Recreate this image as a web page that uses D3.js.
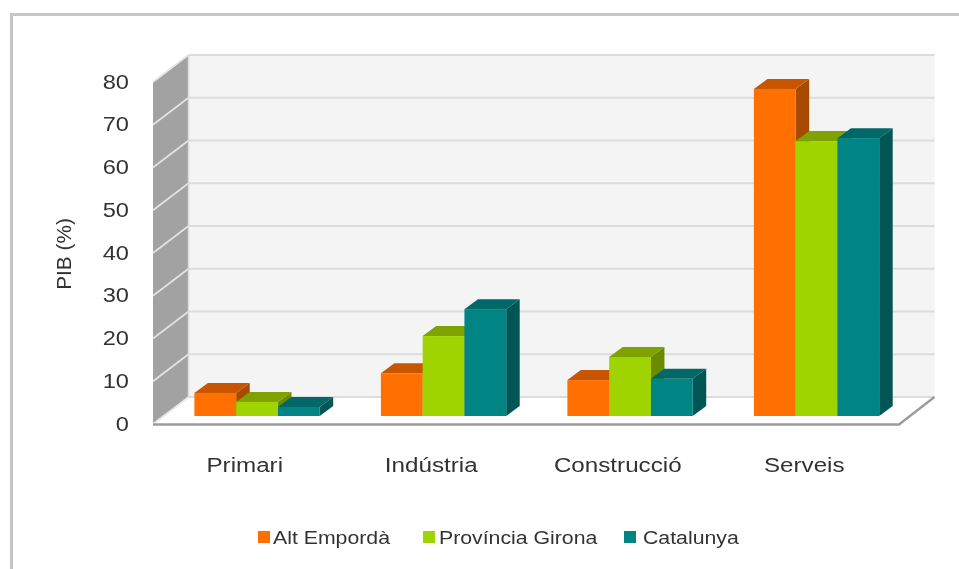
<!DOCTYPE html>
<html><head><meta charset="utf-8">
<script src="https://cdn.jsdelivr.net/npm/d3@7/dist/d3.min.js"></script>
<style>html,body{margin:0;padding:0;background:#fff}svg{display:block}text{font-family:"Liberation Sans",Arial,sans-serif;fill:#333}</style>
</head><body><div id="c"></div>
<script>
const categories = ["Primari","Indústria","Construcció","Serveis"];
const seriesNames = ["Alt Empordà","Província Girona","Catalunya"];
const altEmporda = [5.4,10,8.4,76.5];
const provinciaGirona = [3.3,18.7,13.8,64.3];
const catalunya = [2.1,25,8.7,65];
const yTicks = [0,10,20,30,40,50,60,70,80];
const seriesValues = [altEmporda,provinciaGirona,catalunya];
const front = ["#ff6f00","#a0d400","#008484"];
const topC = ["#c85700","#7fa200","#006767"];
const sideC = ["#a84a00","#6b8a00","#005555"];

const W=959,H=569;
const svg=d3.select("#c").append("svg").attr("width",W).attr("height",H);
const defs=svg.append("defs");
defs.append("filter").attr("id","soft").attr("x","-5%").attr("y","-5%").attr("width","110%").attr("height","110%")
  .append("feGaussianBlur").attr("stdDeviation",0.55);
const root=svg.append("g").attr("filter","url(#soft)");

// frame
root.append("path").attr("d","M11.5,569V14.5H959").attr("fill","none").attr("stroke","#c6c6c6").attr("stroke-width",3);

const y=d3.scaleLinear().domain([0,80]).range([424,82]);
const x0=d3.scaleBand().domain(categories).range([153,899]).paddingInner(0.328).paddingOuter(0.164);
const x1=d3.scaleBand().domain(d3.range(3)).range([0,x0.bandwidth()]);
const DX=35.5,DY=-27;          // wall depth
const bx=10.8,by=-8;           // bars' offset into floor
const bdx=13.5,bdy=-10;        // bar depth
const poly=p=>"M"+p.map(q=>q.join(",")).join("L")+"Z";

// back wall
root.append("path").attr("d",poly([[153+DX,y(80)+DY],[899+DX,y(80)+DY],[899+DX,y(0)+DY],[153+DX,y(0)+DY]])).attr("fill","#f4f4f4");
// left wall
root.append("path").attr("d",poly([[153,y(80)],[153+DX,y(80)+DY],[153+DX,y(0)+DY],[153,y(0)]])).attr("fill","#a2a2a2");
// floor
root.append("path").attr("d",poly([[153,y(0)],[153+DX,y(0)+DY],[899+DX,y(0)+DY],[899,y(0)]])).attr("fill","#fff");

// gridlines
root.selectAll(".gb").data(yTicks).join("line").attr("x1",153+DX).attr("x2",899+DX)
  .attr("y1",d=>y(d)+DY).attr("y2",d=>y(d)+DY).attr("stroke","#dcdcdc").attr("stroke-width",2);
root.selectAll(".gs").data(yTicks).join("line").attr("x1",153).attr("x2",153+DX)
  .attr("y1",d=>y(d)).attr("y2",d=>y(d)+DY).attr("stroke","#e4e4e4").attr("stroke-width",1.6);
root.append("line").attr("x1",153+DX).attr("x2",153+DX).attr("y1",y(80)+DY).attr("y2",y(0)+DY).attr("stroke","#dcdcdc").attr("stroke-width",1.5);
// floor edges
root.append("path").attr("d",`M153,${y(0)+0.5}H899L${899+DX},${y(0)+DY}`).attr("fill","none").attr("stroke","#9c9c9c").attr("stroke-width",2.4);

// bars
categories.forEach((c,i)=>{
  seriesValues.forEach((vals,s)=>{
    const xl=x0(c)+x1(s)+bx, xr=xl+x1.bandwidth();
    const base=y(0)+by, t=y(vals[i])+by;
    const g=root.append("g");
    g.append("path").attr("d",poly([[xr,t],[xr+bdx,t+bdy],[xr+bdx,base+bdy],[xr,base]])).attr("fill",sideC[s]);
    g.append("path").attr("d",poly([[xl,t],[xl+bdx,t+bdy],[xr+bdx,t+bdy],[xr,t]])).attr("fill",topC[s]);
    g.append("rect").attr("x",xl).attr("y",t).attr("width",xr-xl).attr("height",base-t).attr("fill",front[s]);
  });
});

// y tick labels (the reference's type is stretched horizontally)
root.selectAll(".yt").data(yTicks).join("text").attr("transform",d=>`translate(129,${y(d)-0.5}) scale(1.18,1)`).attr("dy","0.36em")
  .attr("text-anchor","end").attr("font-size",20).text(d=>d);
// y title
root.append("text").attr("transform","translate(71,254) rotate(-90) scale(1.04,1)").attr("text-anchor","middle").attr("font-size",20).text("PIB (%)");
// x labels
root.selectAll(".xt").data(categories).join("text").attr("transform",d=>`translate(${x0(d)+x0.bandwidth()/2-1.5},472) scale(1.21,1)`)
  .attr("text-anchor","middle").attr("font-size",20).text(d=>d);
// legend
const lx=[258,423,624], tx=[273,439,643];
seriesNames.forEach((n,i)=>{
  root.append("rect").attr("x",lx[i]).attr("y",531).attr("width",12).attr("height",12).attr("fill",front[i]);
  root.append("text").attr("transform",`translate(${tx[i]},544) scale(1.15,1)`).attr("font-size",18.5).text(n);
});
</script></body></html>
